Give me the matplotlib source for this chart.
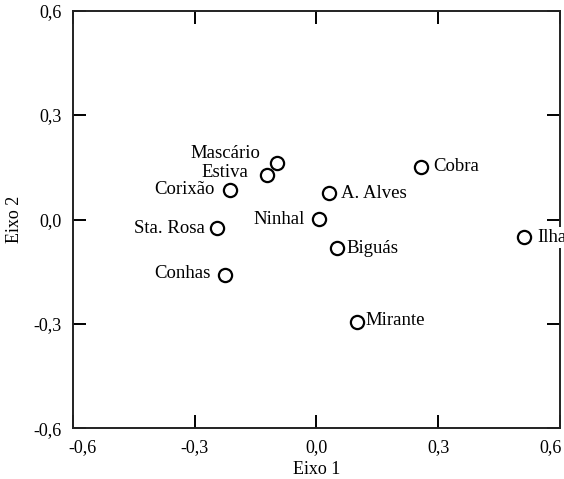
import matplotlib
matplotlib.use("Agg")
import matplotlib.pyplot as plt
from matplotlib.transforms import ScaledTranslation

names = ["Mascário", "Estiva", "Corixão", "Sta. Rosa", "Conhas", "Ninhal",
         "A. Alves", "Biguás", "Mirante", "Cobra", "Ilha"]
eixo1 = [-0.098, -0.121, -0.213, -0.244, -0.225, 0.006, 0.032, 0.050, 0.100, 0.257, 0.511]
eixo2 = [0.163, 0.128, 0.086, -0.025, -0.159, 0.001, 0.076, -0.083, -0.294, 0.152, -0.051]
ticks = [-0.6, -0.3, 0.0, 0.3, 0.6]
tick_labels = ["-0,6", "-0,3", "0,0", "0,3", "0,6"]

# label placement (offset pixels, alignment)
offsets = {
    "Mascário": (-16, 9, "right"),
    "Estiva": (-19, 2, "right"),
    "Corixão": (-15, 0, "right"),
    "Sta. Rosa": (-13, 0, "right"),
    "Conhas": (-15, 1, "right"),
    "Ninhal": (-14, 0, "right"),
    "A. Alves": (12, 0, "left"),
    "Biguás": (10, 0, "left"),
    "Mirante": (8, 1, "left"),
    "Cobra": (12, 0, "left"),
    "Ilha": (13, 0, "left"),
}

plt.rcParams['font.family'] = ['Liberation Serif', 'DejaVu Serif']

fig = plt.figure(figsize=(5.64, 4.79), dpi=100)
ax = fig.add_axes([0.1294, 0.1058, 0.8635, 0.8719])

for n, x, y in zip(names, eixo1, eixo2):
    dx, dy, ha = offsets[n]
    ax.annotate(n, (x, y), xytext=(dx, dy), textcoords='offset pixels',
                ha=ha, va='center', fontsize=13.5, color='black', zorder=4,
                bbox=dict(boxstyle='square,pad=0.1', fc='white', ec='none'),
                annotation_clip=False, clip_on=False)

ax.plot(eixo1, eixo2, linestyle='none', marker='o', ms=9.5, mfc='white',
        mec='black', mew=1.6, zorder=5, clip_on=False)

ax.set_xlim(-0.6, 0.6)
ax.set_ylim(-0.6, 0.6)
ax.set_xticks(ticks)
ax.set_xticklabels(tick_labels)
ax.set_yticks(ticks)
ax.set_yticklabels(tick_labels)
ax.tick_params(direction='in', length=9.5, width=1.4, top=True, right=True,
               labelsize=13, pad=8, colors='black')
ax.tick_params(axis='y', pad=8)
for s in ax.spines.values():
    s.set_linewidth(1.4)
    s.set_color('#222222')
    s.set_zorder(3)

xl = ax.get_xticklabels()
xl[0].set_transform(xl[0].get_transform() + ScaledTranslation(10 / 100, 0, fig.dpi_scale_trans))
xl[-1].set_transform(xl[-1].get_transform() + ScaledTranslation(-9 / 100, 0, fig.dpi_scale_trans))

ax.set_xlabel("Eixo 1", fontsize=13, labelpad=3)
ax.set_ylabel("Eixo 2", fontsize=13, labelpad=8)

fig.savefig("out.png", dpi=100)
